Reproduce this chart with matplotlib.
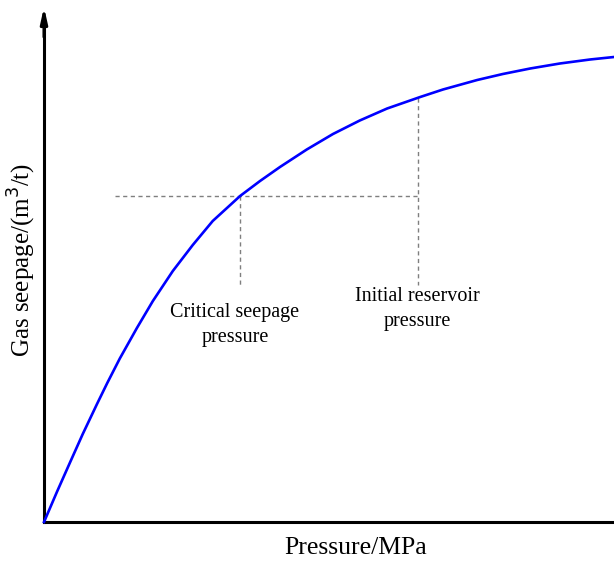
import matplotlib.pyplot as plt

# Curve (arbitrary units)
pressure = [0.0, 0.23, 0.46, 0.68, 0.93, 1.11, 1.33, 1.63, 1.91, 2.26, 2.61,
            2.96, 3.44, 3.79, 4.14, 4.61, 5.07, 5.54, 6.02, 6.60, 7.00, 7.60,
            8.05, 8.53, 9.05, 9.58, 10.0]
seepage = [0.0, 0.61, 1.20, 1.76, 2.36, 2.78, 3.27, 3.88, 4.42, 5.02, 5.54,
           6.02, 6.52, 6.82, 7.10, 7.45, 7.76, 8.03, 8.27, 8.50, 8.65, 8.84,
           8.96, 9.07, 9.17, 9.25, 9.30]

# Reference points
critical_p = 3.44
critical_q = 6.52
initial_p = 6.56
initial_q = 8.48
guide_start = 1.25
guide_bottom = 4.75

plt.rcParams['font.family'] = ['Liberation Serif', 'DejaVu Serif']

fig = plt.figure(figsize=(6.14, 5.64), dpi=100)
ax = fig.add_axes([44 / 614, 42 / 564, 570 / 614, 500 / 564])

ax.plot(pressure, seepage, color="#0000ff", lw=1.9, clip_on=False, zorder=3,
        solid_joinstyle="round")

# Dashed guide lines
dash = dict(color="#7f7f7f", lw=1.0, ls=(0, (3, 2.5)))
ax.plot([guide_start, initial_p], [critical_q, critical_q], **dash)
ax.plot([critical_p, critical_p], [critical_q, guide_bottom], **dash)
ax.plot([initial_p, initial_p], [initial_q, guide_bottom], **dash)

ax.text(3.35, 3.94, "Critical seepage\npressure", ha="center", va="center",
        fontsize=14.5, linespacing=1.45)
ax.text(6.55, 4.26, "Initial reservoir\npressure", ha="center", va="center",
        fontsize=14.5, linespacing=1.45)

ax.set_xlim(0, 10)
ax.set_ylim(0, 10)
ax.set_xticks([])
ax.set_yticks([])
for s in ["top", "right"]:
    ax.spines[s].set_visible(False)
ax.spines["left"].set_linewidth(2.2)
ax.spines["bottom"].set_linewidth(2.2)

# Arrow on top of the y axis
ax.annotate("", xy=(0, 1.03), xytext=(0, 0.97), xycoords="axes fraction",
            arrowprops=dict(arrowstyle="-|>,head_length=0.9,head_width=0.2",
                            color="black", lw=2.2, shrinkA=0, shrinkB=0))

fig.text(356 / 614, 1 - 548 / 564, "Pressure/MPa", fontsize=18.5,
         ha="center", va="center")
fig.text(22 / 614, 1 - 260 / 564, "Gas seepage/(m$^3$/t)", fontsize=18,
         ha="center", va="center", rotation=90)

fig.savefig("out.png", dpi=100)
